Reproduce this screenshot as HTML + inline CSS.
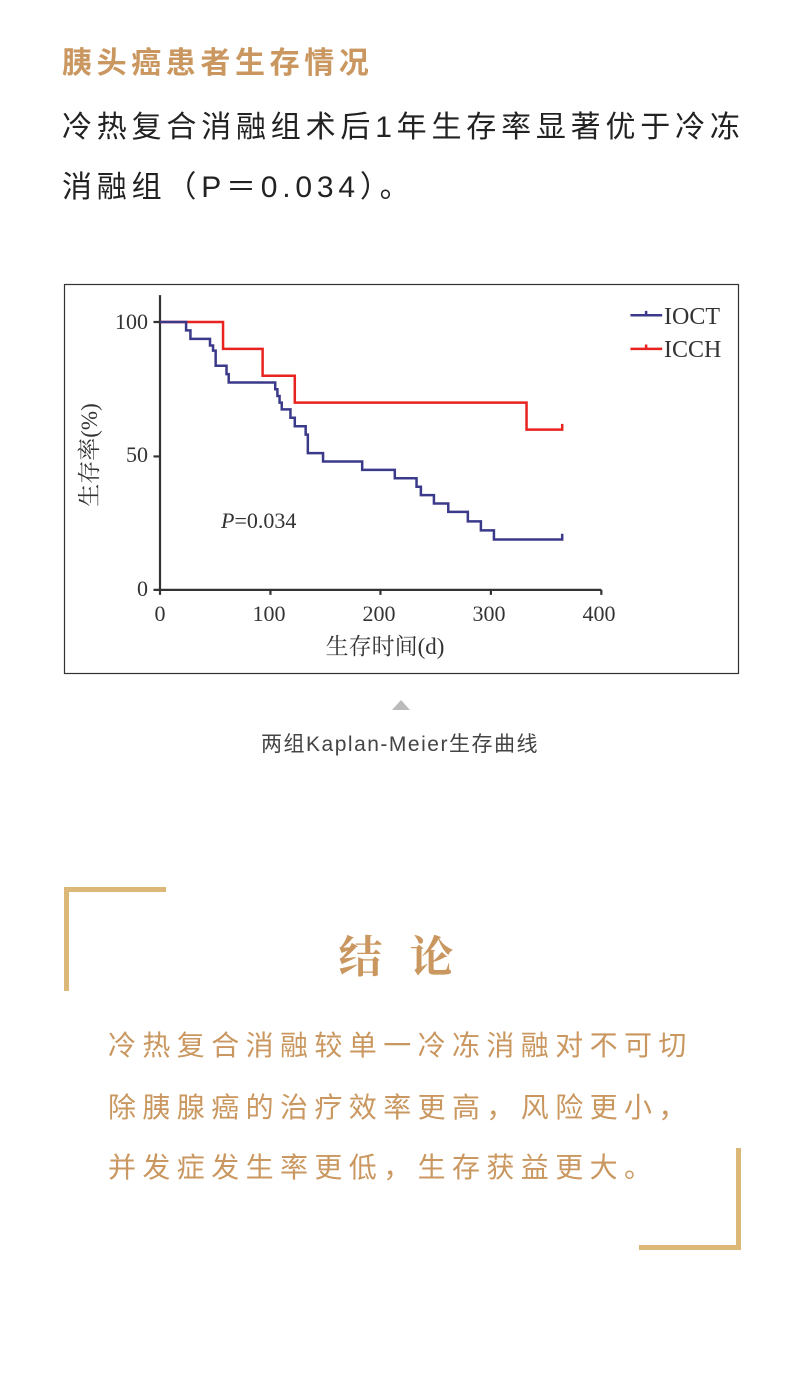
<!DOCTYPE html>
<html><head><meta charset="utf-8">
<style>
body{margin:0;width:800px;height:1378px;background:#fff;position:relative;overflow:hidden;font-family:"Liberation Sans","Noto Sans CJK SC",sans-serif;}
.a{position:absolute;white-space:nowrap;}
.title{left:62px;top:44px;font-size:30px;font-weight:bold;color:#c9975f;letter-spacing:4.6px;line-height:40px;}
.p{left:62px;font-size:30px;color:#222;letter-spacing:4.8px;line-height:40px;}
.cap{left:0;width:800px;text-align:center;top:732px;font-size:21px;color:#444;line-height:26px;letter-spacing:1.5px;}
.gl{position:absolute;background:#dcb878;}
.c{left:108px;font-size:28px;color:#c9975f;letter-spacing:6.4px;line-height:40px;}
</style></head><body>
<div class="a title">胰头癌患者生存情况</div>
<div class="a p" style="top:108px">冷热复合消融组术后1年生存率显著优于冷冻</div>
<div class="a p" style="top:168px">消融组（P＝0.034）。</div>

<svg style="position:absolute;left:60px;top:280px" width="680" height="400" viewBox="0 0 680 400">
<rect x="4.5" y="4.5" width="674" height="389" fill="#fff" stroke="#333" stroke-width="1.2"/>
<g transform="scale(0.4348,0.3361)" fill="none">
<g stroke="#333" stroke-width="2.2">
<path d="M230 45 V922 H1245" vector-effect="non-scaling-stroke"/>
<path d="M215 125H230M215 525H230M215 922H230" vector-effect="non-scaling-stroke"/>
<path d="M230 922v15M484 922v15M737 922v15M991 922v15M1245 922v15" vector-effect="non-scaling-stroke"/>
</g>
<path d="M1312 105H1385M1348 105V92" stroke="#3b3a8a" stroke-width="2.5" vector-effect="non-scaling-stroke"/>
<path d="M1312 205H1385M1348 205V192" stroke="#e8231f" stroke-width="2.5" vector-effect="non-scaling-stroke"/>
<path d="M230 125H375V205H466V285H540V365H1073V445H1155V428" stroke="#e8231f" stroke-width="2.5" vector-effect="non-scaling-stroke"/>
<path d="M230 125H290V150H300V175H345V195H352V210H358V255H383V280H388V305H495V325H500V345H505V365H510V385H530V410H540V435H565V460H570V515H605V540H695V565H770V590H820V615H830V640H860V665H893V690H938V718H968V745H998V772H1155V755" stroke="#3b3a8a" stroke-width="2.5" vector-effect="non-scaling-stroke"/>
</g>
<g font-family="Liberation Serif,serif" font-size="22" fill="#333">
<text x="88" y="49" text-anchor="end">100</text>
<text x="88" y="182" text-anchor="end">50</text>
<text x="88" y="316" text-anchor="end">0</text>
<text x="100" y="341" text-anchor="middle">0</text>
<text x="209" y="341" text-anchor="middle">100</text>
<text x="319" y="341" text-anchor="middle">200</text>
<text x="429" y="341" text-anchor="middle">300</text>
<text x="539" y="341" text-anchor="middle">400</text>
<text x="161" y="248"><tspan font-style="italic">P</tspan>=0.034</text>
<text x="604" y="44" font-size="24">IOCT</text>
<text x="604" y="77" font-size="24">ICCH</text>
</g>
<text x="325" y="374" text-anchor="middle" font-family="Liberation Serif,'Noto Serif CJK SC',serif" font-size="23" fill="#333">生存时间(d)</text>
<text transform="translate(37 175) rotate(-90)" text-anchor="middle" font-family="Liberation Serif,'Noto Serif CJK SC',serif" font-size="23" fill="#333">生存率(%)</text>
</svg>

<svg style="position:absolute;left:392px;top:699px" width="18" height="12"><path d="M0 11L9 1L18 11Z" fill="#bbb"/></svg>
<div class="a cap">两组Kaplan-Meier生存曲线</div>

<div class="gl" style="left:64px;top:887px;width:102px;height:5px"></div>
<div class="gl" style="left:64px;top:887px;width:5px;height:104px"></div>
<div class="gl" style="left:736px;top:1148px;width:5px;height:102px"></div>
<div class="gl" style="left:639px;top:1245px;width:102px;height:5px"></div>
<div class="a" style="left:0;width:800px;text-align:center;top:930px;font-size:44px;font-weight:bold;color:#c9975f;letter-spacing:8px;line-height:56px;font-family:'Liberation Serif','Noto Serif CJK SC',serif">结 论</div>
<div class="a c" style="top:1026px">冷热复合消融较单一冷冻消融对不可切</div>
<div class="a c" style="top:1088px">除胰腺癌的治疗效率更高，风险更小，</div>
<div class="a c" style="top:1148px">并发症发生率更低，生存获益更大。</div>
</body></html>
